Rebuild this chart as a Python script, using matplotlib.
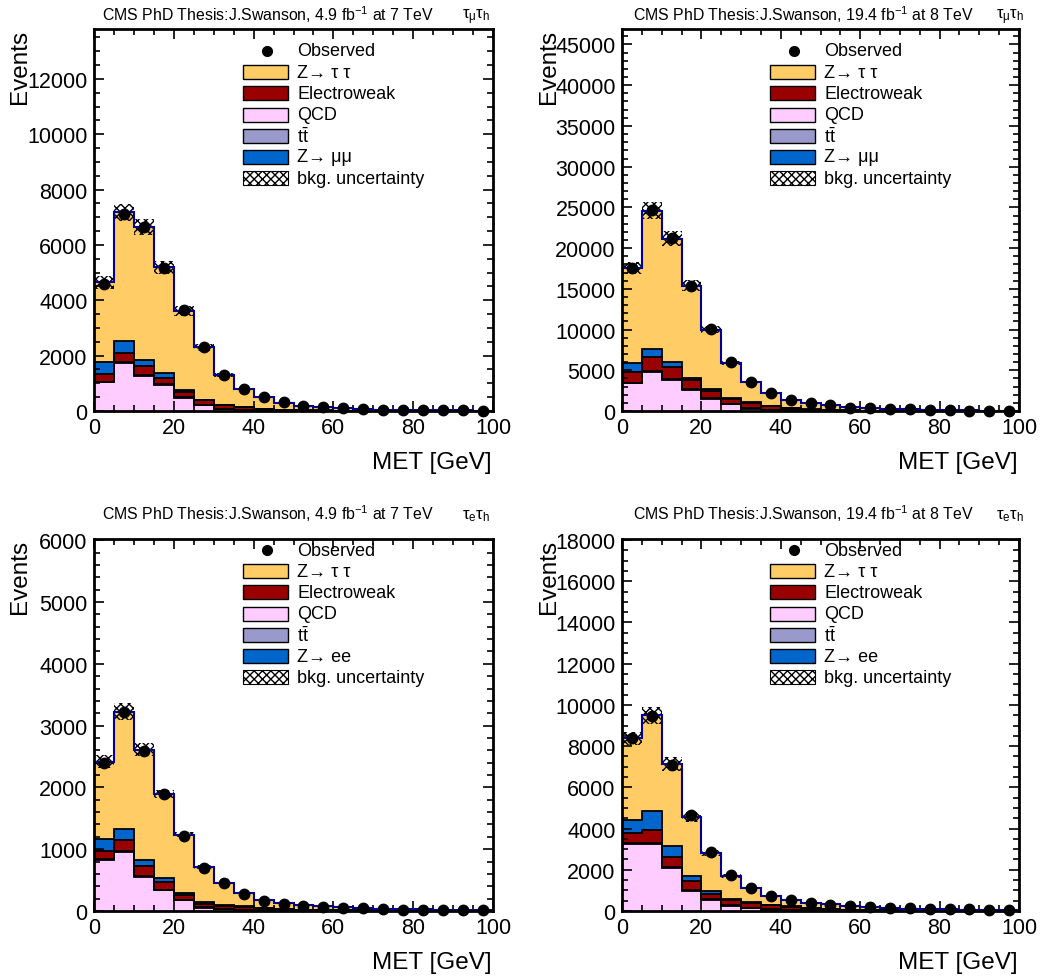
import numpy as np
import matplotlib
matplotlib.use("Agg")
import matplotlib.pyplot as plt
from matplotlib.patches import Rectangle
from matplotlib.ticker import MultipleLocator

plt.rcParams['font.family'] = ['Liberation Sans', 'DejaVu Sans']
plt.rcParams['mathtext.fontset'] = 'custom'
plt.rcParams['mathtext.rm'] = 'Liberation Sans'
plt.rcParams['mathtext.it'] = 'Liberation Sans:italic'
plt.rcParams['mathtext.bf'] = 'Liberation Sans:bold'
plt.rcParams['hatch.linewidth'] = 1.0

# ---------------- data ----------------
MET_EDGES = [0, 5, 10, 15, 20, 25, 30, 35, 40, 45, 50, 55, 60, 65, 70, 75, 80, 85, 90, 95, 100]

# mu-tau, 7 TeV
mt7_obs = [4600, 7130, 6650, 5180, 3660, 2330, 1300, 800, 495, 315, 195, 135, 110, 72, 50, 40, 30, 25, 20, 15]
mt7_qcd = [1030, 1716, 1267, 930, 485, 206, 60, 20, 10, 5, 3, 2, 1, 1, 1, 0, 0, 0, 0, 0]
mt7_tt = [30, 50, 45, 35, 30, 25, 20, 15, 10, 8, 5, 4, 3, 2, 2, 1, 1, 1, 1, 1]
mt7_ewk = [270, 312, 317, 245, 170, 150, 126, 95, 40, 25, 16, 12, 9, 7, 5, 4, 3, 3, 2, 2]
mt7_zll = [446, 434, 217, 145, 87, 30, 20, 10, 10, 8, 5, 4, 3, 2, 2, 1, 1, 1, 1, 1]
mt7_ztt = [2874, 4668, 4794, 3835, 2848, 1884, 1064, 645, 428, 256, 161, 108, 79, 58, 40, 34, 25, 20, 16, 11]
mt7_unc = [240, 300, 290, 230, 170, 110, 65, 40, 25, 15, 10, 7, 5, 4, 3, 2, 2, 2, 1, 1]

# mu-tau, 8 TeV
mt8_obs = [17500, 24700, 21200, 15350, 10050, 6000, 3600, 2150, 1330, 1000, 680, 390, 310, 270, 190, 110, 80, 60, 50, 40]
mt8_qcd = [3380, 4790, 3790, 2520, 1500, 800, 270, 100, 40, 20, 10, 5, 3, 2, 1, 1, 0, 0, 0, 0]
mt8_tt = [100, 150, 140, 120, 100, 80, 60, 40, 30, 20, 15, 10, 8, 6, 5, 4, 3, 2, 2, 1]
mt8_ewk = [1310, 1670, 1500, 1110, 840, 620, 670, 450, 237, 144, 85, 55, 39, 32, 24, 15, 12, 10, 8, 7]
mt8_zll = [1050, 950, 570, 330, 200, 120, 80, 50, 30, 20, 15, 10, 8, 6, 5, 4, 3, 2, 2, 1]
mt8_ztt = [11760, 17040, 15150, 11320, 7360, 4330, 2470, 1560, 1013, 776, 555, 370, 272, 204, 155, 106, 82, 61, 48, 36]
mt8_unc = [720, 1070, 920, 650, 410, 250, 150, 95, 60, 45, 30, 20, 15, 12, 10, 7, 6, 5, 4, 3]

# e-tau, 7 TeV
et7_obs = [2400, 3225, 2595, 1893, 1220, 700, 447, 269, 162, 119, 81, 71, 55, 44, 27, 16, 20, 15, 12, 10]
et7_qcd = [833, 951, 555, 333, 173, 55, 27, 10, 5, 3, 2, 1, 1, 1, 0, 0, 0, 0, 0, 0]
et7_tt = [10, 15, 15, 12, 10, 10, 10, 8, 6, 4, 3, 2, 2, 1, 1, 1, 1, 1, 0, 0]
et7_ewk = [135, 179, 155, 122, 75, 43, 44, 53, 33, 23, 15, 12, 9, 8, 7, 5, 4, 3, 3, 3]
et7_zll = [189, 184, 108, 65, 39, 37, 10, 7, 6, 4, 3, 2, 2, 2, 1, 1, 1, 1, 1, 0]
et7_ztt = [1251, 1896, 1778, 1361, 939, 566, 362, 217, 133, 95, 77, 63, 46, 38, 29, 20, 19, 15, 12, 9]
et7_unc = [108, 134, 102, 72, 46, 28, 18, 12, 8, 6, 5, 4, 3, 3, 2, 2, 2, 1, 1, 1]

# e-tau, 8 TeV
et8_obs = [8400, 9440, 7090, 4640, 2850, 1760, 1123, 720, 512, 400, 288, 240, 192, 160, 130, 110, 80, 80, 50, 45]
et8_qcd = [3250, 3235, 2083, 993, 527, 240, 129, 50, 25, 15, 8, 5, 3, 2, 1, 1, 1, 0, 0, 0]
et8_tt = [40, 60, 55, 50, 40, 35, 30, 25, 18, 12, 9, 7, 5, 4, 3, 3, 2, 2, 1, 1]
et8_ewk = [472, 627, 502, 430, 234, 237, 245, 198, 169, 104, 73, 53, 42, 34, 26, 21, 17, 13, 11, 9]
et8_zll = [673, 924, 528, 207, 159, 49, 40, 17, 13, 9, 7, 5, 4, 3, 3, 2, 2, 2, 2, 1]
et8_ztt = [3935, 4644, 3952, 2880, 1870, 1149, 679, 430, 287, 260, 223, 170, 138, 117, 82, 53, 53, 43, 36, 34]
et8_unc = [336, 418, 336, 240, 144, 90, 55, 35, 25, 20, 15, 12, 10, 8, 6, 5, 4, 4, 3, 3]

LEGEND_LABELS_MT = ["Observed", "Z\u2192 \u03c4 \u03c4", "Electroweak", "QCD",
                    r"t$\mathregular{\bar{t}}$", "Z\u2192 \u03bc\u03bc", "bkg. uncertainty"]
LEGEND_LABELS_ET = ["Observed", "Z\u2192 \u03c4 \u03c4", "Electroweak", "QCD",
                    r"t$\mathregular{\bar{t}}$", "Z\u2192 ee", "bkg. uncertainty"]

TITLE_7 = r"CMS PhD Thesis:J.Swanson, 4.9 fb$^{-1}$ at 7 TeV"
TITLE_8 = r"CMS PhD Thesis:J.Swanson, 19.4 fb$^{-1}$ at 8 TeV"
CHAN_MT = r"$\mathregular{\tau_{\mu}\tau_{h}}$"
CHAN_ET = r"$\mathregular{\tau_{e}\tau_{h}}$"

# ---------------- style ----------------
YEL = '#FFCC66'
RED = '#990000'
PINK = '#FFCCFF'
TTC = '#9999CC'
BLUE = '#0066CC'
NAVY = '#000099'

W, H = 1044, 979
fig = plt.figure(figsize=(W / 100, H / 100), dpi=100)


def px_rect(l, t, r, b):
    return [l / W, 1 - b / H, (r - l) / W, (b - t) / H]


def draw_panel(rect, obs, qcd, tt, ewk, zll, ztt, unc, ymax, major, minor,
               labels, title, chan, title_x, title_y, chan_right, leg_top_px, ylab_x):
    ax = fig.add_axes(px_rect(*rect))
    edges = np.array(MET_EDGES, dtype=float)
    centers = 0.5 * (edges[:-1] + edges[1:])
    widths = np.diff(edges)
    c1 = np.array(qcd, dtype=float)
    c2 = c1 + np.array(tt)
    c3 = c2 + np.array(ewk)
    c4 = c3 + np.array(zll)
    c5 = c4 + np.array(ztt)
    u = np.array(unc, dtype=float)
    for cum, col in [(c5, YEL), (c4, BLUE), (c3, RED), (c2, TTC), (c1, PINK)]:
        ax.stairs(cum, edges, fill=True, facecolor=col, edgecolor='none', zorder=1)
        ax.stairs(cum, edges, color='black', lw=1.3, baseline=0, zorder=1.5)
    ax.bar(centers, 2 * u, bottom=c5 - u, width=widths, fill=False, hatch='xxxx',
           edgecolor='black', linewidth=0, zorder=2)
    ax.stairs(c5, edges, color=NAVY, lw=1.5, baseline=None, zorder=2.5)
    o = np.array(obs, dtype=float)
    ax.errorbar(centers, o, yerr=np.sqrt(o), fmt='o', color='black', ms=7.5,
                elinewidth=1, capsize=0, zorder=4, clip_on=False)

    ax.set_xlim(0, 100)
    ax.set_ylim(0, ymax)
    ax.xaxis.set_major_locator(MultipleLocator(20))
    ax.xaxis.set_minor_locator(MultipleLocator(5))
    ax.yaxis.set_major_locator(MultipleLocator(major))
    ax.yaxis.set_minor_locator(MultipleLocator(minor))
    ax.tick_params(which='both', direction='in', top=True, right=True,
                   labelsize=15.5, width=1.2, pad=4.5)
    ax.tick_params(which='major', length=7.5)
    ax.tick_params(which='minor', length=4)
    for s in ax.spines.values():
        s.set_linewidth(2.0)

    # legend
    axh = rect[3] - rect[1]
    axw = rect[2] - rect[0]
    step = 21.2
    bh = 14.0 / axh
    colors = [None, YEL, RED, PINK, TTC, BLUE, 'hatch']
    for i, (lab, col) in enumerate(zip(labels, colors)):
        y = 1 - (leg_top_px + i * step) / axh
        if col is None:
            ax.plot([0.434], [y], 'o', color='black', ms=7, transform=ax.transAxes,
                    clip_on=False, zorder=5)
        elif col == 'hatch':
            ax.add_patch(Rectangle((0.373, y - bh / 2), 45 / axw, bh, transform=ax.transAxes,
                                   facecolor='white', edgecolor='black', hatch='xxxx',
                                   lw=0.8, zorder=5))
        else:
            ax.add_patch(Rectangle((0.373, y - bh / 2), 45 / axw, bh, transform=ax.transAxes,
                                   facecolor=col, edgecolor='black', lw=1.0, zorder=5))
        ax.text(0.509, y, lab, transform=ax.transAxes, ha='left', va='center',
                fontsize=13, zorder=6)

    # titles
    fig.text(title_x / W, 1 - title_y / H, title, ha='left', va='center', fontsize=11.4)
    fig.text(chan_right / W, 1 - (title_y + 2) / H, chan, ha='right', va='center',
             fontsize=12)
    # axis labels
    fig.text(ylab_x / W, 1 - rect[1] / H, "Events", rotation=90, ha='center', va='top',
             fontsize=17.5)
    fig.text((rect[2] - 1) / W, 1 - (rect[3] + 51) / H, "MET [GeV]", ha='right', va='center',
             fontsize=17.5)
    return ax


draw_panel((94, 30, 493, 412), mt7_obs, mt7_qcd, mt7_tt, mt7_ewk, mt7_zll, mt7_ztt, mt7_unc,
           13800, 2000, 500, LEGEND_LABELS_MT, TITLE_7, CHAN_MT, 102, 15, 490, 22, 20)
draw_panel((622, 30, 1019, 412), mt8_obs, mt8_qcd, mt8_tt, mt8_ewk, mt8_zll, mt8_ztt, mt8_unc,
           46900, 5000, 1000, LEGEND_LABELS_MT, TITLE_8, CHAN_MT, 633, 15, 1024, 22, 549)
draw_panel((94, 540, 493, 912), et7_obs, et7_qcd, et7_tt, et7_ewk, et7_zll, et7_ztt, et7_unc,
           6020, 1000, 200, LEGEND_LABELS_ET, TITLE_7, CHAN_ET, 102, 514, 490, 11, 20)
draw_panel((622, 540, 1019, 912), et8_obs, et8_qcd, et8_tt, et8_ewk, et8_zll, et8_ztt, et8_unc,
           18050, 2000, 500, LEGEND_LABELS_ET, TITLE_8, CHAN_ET, 633, 514, 1024, 11, 549)

fig.savefig("out.png", dpi=100)
